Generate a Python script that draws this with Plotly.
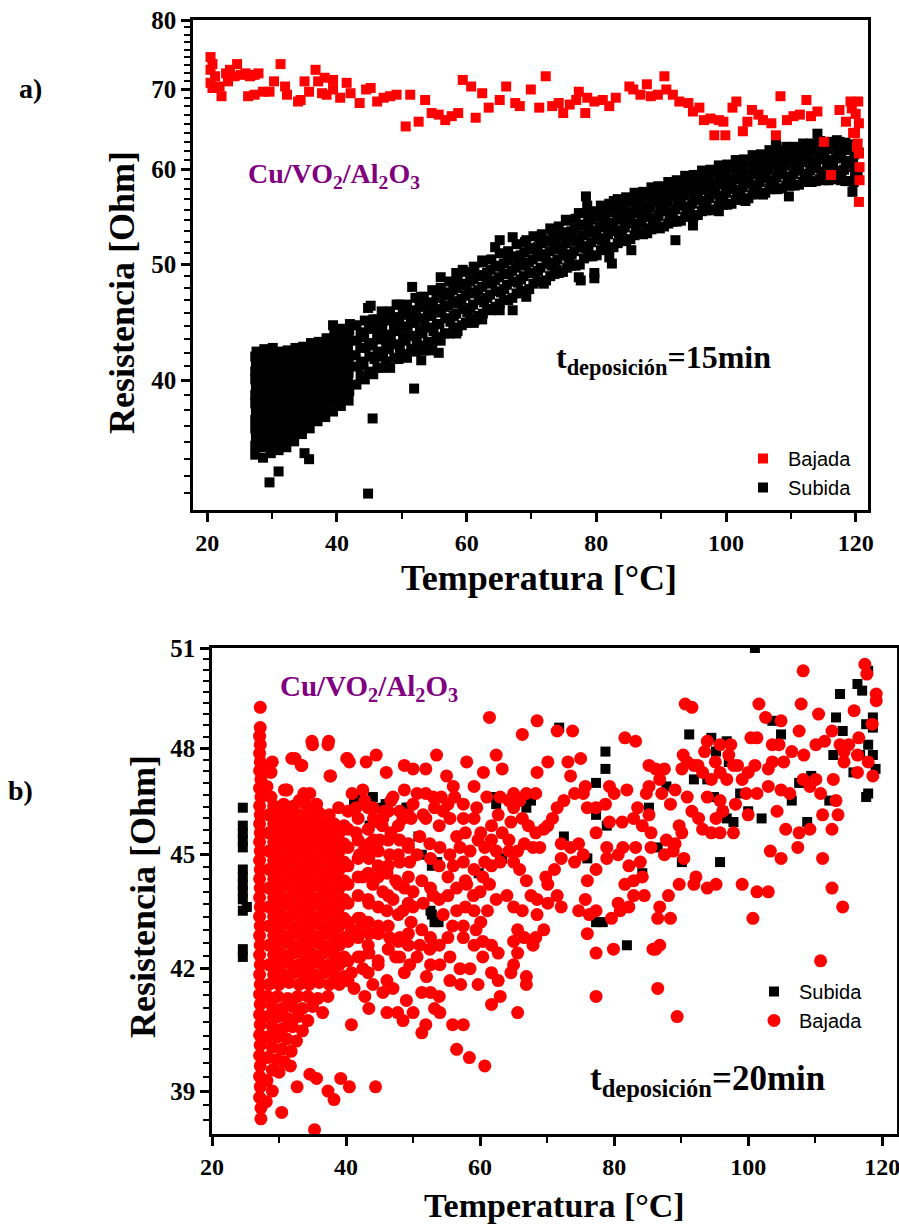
import math
import plotly.graph_objects as go

# ---------------- Panel a) : Cu/VO2/Al2O3, t = 15 min ----------------
bajada_a = [
 (20.5,74.5),(20.8,73.5),(20.5,72.7),(21.2,71.8),(20.5,70.9),(21.9,70.4),(22.2,69.1),(20.8,70.2),
 (22.9,72.2),(23.5,72.7),(23.2,71.1),(24.6,73.5),(24.2,71.8),(25.2,72.0),(25.9,72.2),(26.6,71.8),
 (27.3,72.0),(27.9,72.2),(26.3,69.1),(27.3,69.3),(28.6,69.7),(29.6,69.7),(30.3,71.1),(31.3,73.5),
 (32.0,70.4),(32.3,69.3),(34.0,68.4),(34.4,68.6),(35.0,71.1),(35.7,69.7),(36.7,72.7),(37.1,71.1),
 (38.1,71.6),(37.7,69.5),(38.4,69.3),(39.4,71.3),(39.4,70.0),(40.5,68.9),(41.5,70.9),(42.1,69.5),
 (43.5,68.2),(44.5,70.0),(45.2,70.2),(46.2,68.4),(47.2,68.9),(48.2,69.1),(49.2,69.3),(50.6,65.2),
 (51.3,69.3),(52.6,65.8),(53.6,68.6),(54.6,66.9),(55.7,66.7),(56.7,66.0),(57.7,66.5),(58.7,66.9),
 (59.4,71.3),(60.7,70.4),(61.4,66.3),(62.4,69.5),(63.4,67.6),(65.1,68.6),(66.1,70.4),(67.5,68.2),
 (68.2,67.8),(69.9,70.0),(71.2,67.6),(72.2,71.8),(73.2,67.8),(74.2,68.2),(74.9,66.9),(75.9,68.0),
 (76.9,68.6),(77.3,69.7),(78.3,66.9),(78.6,68.9),(79.7,68.4),(81.0,68.6),(82.0,67.8),(83.0,68.9),
 (85.1,70.4),(85.7,70.0),(86.8,69.3),(87.8,70.7),(88.4,69.1),(89.5,69.3),(90.5,71.8),(90.8,70.0),
 (91.8,69.3),(92.8,68.4),(94.2,68.2),(94.9,67.1),(95.9,67.6),(96.6,66.0),(97.6,66.2),(98.2,64.1),
 (98.9,66.0),(99.9,64.1),(99.6,65.8),(101.0,67.6),(101.6,68.4),(102.6,64.6),(103.3,65.8),(104.0,67.3),
 (105.0,66.7),(105.7,66.0),(107.0,65.6),(107.7,64.1),(108.4,69.1),(109.4,66.0),(110.4,66.5),(111.4,66.7),
 (112.4,68.6),(113.1,66.5),(114.1,67.1),(115.1,63.3),(116.2,59.4),(117.5,67.3),(118.5,65.8),(119.2,68.4),
 (119.9,64.4),(120.2,62.7),(120.4,68.4),(120.5,65.6),(120.5,61.9),(120.6,60.3),(120.6,58.8),(120.5,56.4),
 (120.3,63.1),(119.6,64.4),(120.0,66.8),(119.4,67.5),
]

subida_a_blob = [
 (27.4,34.7),(27.4,35.3),(27.5,35.9),(27.4,36.5),(27.4,37.1),(27.5,37.7),(27.4,38.3),(27.4,38.9),(27.5,39.5),(27.4,40.1),(27.4,40.7),(27.5,41.3),(27.4,41.9),(27.6,42.3),
 (28.6,34.5),(28.5,35.2),(28.7,35.8),(28.6,36.4),(28.6,37.0),(28.5,37.6),(28.7,38.2),(28.6,38.8),(28.6,39.4),(28.5,40.0),(28.7,40.6),(28.6,41.2),(28.6,41.8),(28.8,42.5),
 (29.8,34.8),(29.9,35.4),(29.7,36.0),(29.8,36.6),(29.8,37.2),(29.9,37.8),(29.7,38.4),(29.8,39.0),(29.8,39.6),(29.9,40.2),(29.7,40.8),(29.8,41.4),(29.8,42.0),(30.1,42.6),
 (31.0,35.0),(31.1,35.6),(30.9,36.2),(31.0,36.8),(31.0,37.4),(31.1,38.0),(30.9,38.6),(31.0,39.2),(31.0,39.8),(31.1,40.4),(30.9,41.0),(31.0,41.6),(31.1,42.3),
 (32.2,35.2),(32.3,35.8),(32.1,36.4),(32.2,37.0),(32.2,37.6),(32.3,38.2),(32.1,38.8),(32.2,39.4),(32.2,40.0),(32.3,40.6),(32.1,41.2),(32.2,41.8),(32.4,42.4),
 (33.4,35.6),(33.5,36.2),(33.3,36.8),(33.4,37.4),(33.4,38.0),(33.5,38.6),(33.3,39.2),(33.4,39.8),(33.4,40.4),(33.5,41.0),(33.3,41.6),(33.4,42.2),(33.6,42.6),
 (34.6,36.1),(34.7,36.7),(34.5,37.3),(34.6,37.9),(34.6,38.5),(34.7,39.1),(34.5,39.7),(34.6,40.3),(34.6,40.9),(34.7,41.5),(34.5,42.1),(34.8,42.7),
 (35.8,36.5),(35.9,37.1),(35.7,37.7),(35.8,38.3),(35.8,38.9),(35.9,39.5),(35.7,40.1),(35.8,40.7),(35.8,41.3),(35.9,41.9),(35.7,42.5),(36.0,43.0),
 (37.0,37.0),(37.1,37.6),(36.9,38.2),(37.0,38.8),(37.0,39.4),(37.1,40.0),(36.9,40.6),(37.0,41.2),(37.0,41.8),(37.1,42.4),(37.2,43.1),
 (38.2,37.3),(38.3,37.9),(38.1,38.5),(38.2,39.1),(38.2,39.7),(38.3,40.3),(38.1,40.9),(38.2,41.5),(38.2,42.1),(38.3,42.7),(38.4,43.4),
 (39.4,37.7),(39.5,38.4),(39.3,39.0),(39.4,39.7),(39.4,40.4),(39.5,41.0),(39.3,41.7),(39.4,42.4),(39.4,43.0),(39.6,43.7),
 (40.6,38.1),(40.7,38.8),(40.5,39.5),(40.6,40.2),(40.6,40.9),(40.7,41.6),(40.5,42.3),(40.6,43.0),(40.7,43.7),(40.8,44.2),
 (41.8,38.5),(41.9,39.2),(41.7,39.9),(41.8,40.6),(41.8,41.3),(41.9,42.0),(41.7,42.7),(41.8,43.4),(41.9,44.1),(42.0,44.6),
]

subida_a_band = [
 (43.0,39.7),(43.2,41.1),(42.9,42.0),(43.1,43.2),(43.0,44.5),(44.3,40.1),(44.1,41.2),(44.4,42.6),(44.2,43.5),(44.3,44.9),
 (45.6,40.5),(45.8,41.7),(45.5,42.8),(45.7,44.2),(45.6,45.0),(46.9,41.0),(47.1,41.9),(46.8,43.3),(47.0,44.2),(46.9,45.7),
 (48.2,41.0),(48.0,42.5),(48.3,43.4),(48.1,44.9),(48.2,45.7),(49.5,41.7),(49.7,42.6),(49.4,44.0),(49.6,44.9),(49.5,46.3),
 (50.8,41.8),(50.6,43.2),(50.9,44.1),(50.7,45.4),(50.8,46.3),(52.1,42.3),(52.3,43.2),(52.0,44.7),(52.2,45.6),(52.1,46.9),
 (53.4,42.4),(53.2,43.8),(53.5,44.8),(53.3,46.1),(53.4,47.0),(54.7,43.0),(54.9,44.0),(54.6,45.3),(54.8,46.3),(54.7,47.6),
 (56.0,43.2),(55.8,44.6),(56.1,45.6),(55.9,46.9),(56.0,47.8),(57.3,43.8),(57.5,44.8),(57.2,46.2),(57.4,47.1),(57.3,48.4),
 (58.6,44.0),(58.4,45.5),(58.7,46.4),(58.5,47.8),(58.6,48.7),(59.9,44.7),(60.1,45.6),(59.8,47.1),(60.0,48.0),(59.9,49.3),
 (61.2,44.9),(61.0,46.3),(61.3,47.3),(61.1,48.6),(61.2,49.5),(62.5,45.5),(62.7,46.5),(62.4,47.9),(62.6,48.9),(62.5,50.2),
 (63.8,45.8),(63.6,47.2),(63.9,48.2),(63.7,49.5),(63.8,50.5),(65.1,46.4),(65.3,47.4),(65.0,48.8),(65.2,49.8),(65.1,51.1),
 (66.4,46.7),(66.2,48.1),(66.5,49.1),(66.3,50.4),(66.4,51.3),(67.7,47.3),(67.9,48.3),(67.6,49.7),(67.8,50.6),(67.7,52.0),
 (69.0,47.5),(68.8,48.9),(69.1,49.9),(68.9,51.2),(69.0,52.2),(70.3,48.2),(70.5,49.2),(70.2,50.5),(70.4,51.5),(70.3,52.8),
 (71.6,48.4),(71.4,49.7),(71.7,50.8),(71.5,52.1),(71.6,53.0),(72.9,48.9),(73.1,49.9),(72.8,51.3),(73.0,52.3),(72.9,53.6),
 (74.2,49.2),(74.0,50.5),(74.3,51.5),(74.1,52.8),(74.2,53.8),(75.5,49.7),(75.7,50.7),(75.4,52.1),(75.6,53.0),(75.5,54.4),
 (76.8,49.9),(76.6,51.3),(76.9,52.3),(76.7,53.6),(76.8,54.6),(78.1,50.6),(78.3,51.6),(78.0,52.9),(78.2,53.9),(78.1,55.2),
 (79.4,50.8),(79.2,52.2),(79.5,53.2),(79.3,54.5),(79.4,55.4),(80.7,51.4),(80.9,52.4),(80.6,53.7),(80.8,54.7),(80.7,56.0),
 (82.0,51.6),(81.8,53.0),(82.1,53.9),(81.9,55.3),(82.0,56.2),(83.3,52.1),(83.5,53.1),(83.2,54.5),(83.4,55.4),(83.3,56.7),
 (84.6,52.3),(84.4,53.7),(84.7,54.6),(84.5,56.0),(84.6,56.9),(85.9,52.9),(86.1,53.8),(85.8,55.2),(86.0,56.1),(85.9,57.4),
 (87.2,53.0),(87.0,54.3),(87.3,55.3),(87.1,56.6),(87.2,57.5),(88.5,53.5),(88.7,54.4),(88.4,55.8),(88.6,56.7),(88.5,58.0),
 (89.8,53.6),(89.6,54.9),(89.9,55.9),(89.7,57.2),(89.8,58.1),(91.1,54.1),(91.3,55.0),(91.0,56.4),(91.2,57.3),(91.1,58.6),
 (92.4,54.3),(92.2,55.6),(92.5,56.5),(92.3,57.9),(92.4,58.8),(93.7,54.8),(93.9,55.7),(93.6,57.1),(93.8,58.0),(93.7,59.3),
 (95.0,54.9),(94.8,56.2),(95.1,57.2),(94.9,58.5),(95.0,59.4),(96.3,55.4),(96.5,56.3),(96.2,57.7),(96.4,58.6),(96.3,59.9),
 (97.6,55.5),(97.4,56.8),(97.7,57.8),(97.5,59.1),(97.6,60.0),(98.9,56.0),(99.1,56.9),(98.8,58.3),(99.0,59.2),(98.9,60.5),
 (100.2,56.1),(100.0,57.4),(100.3,58.4),(100.1,59.7),(100.2,60.6),(101.5,56.6),(101.7,57.5),(101.4,58.9),(101.6,59.8),(101.5,61.1),
 (102.8,56.7),(102.6,58.0),(102.9,59.0),(102.7,60.3),(102.8,61.2),(104.1,57.2),(104.3,58.1),(104.0,59.5),(104.2,60.4),(104.1,61.7),
 (105.4,57.3),(105.2,58.6),(105.5,59.6),(105.3,60.9),(105.4,61.8),(106.7,57.8),(106.9,58.7),(106.6,60.0),(106.8,61.0),(106.7,62.3),
 (108.0,57.8),(107.8,59.1),(108.1,60.1),(107.9,61.4),(108.0,62.3),(109.3,58.2),(109.5,59.1),(109.2,60.5),(109.4,61.4),(109.3,62.7),
 (110.6,58.2),(110.4,59.5),(110.7,60.5),(110.5,61.8),(110.6,62.7),(111.9,58.6),(112.1,59.5),(111.8,60.9),(112.0,61.8),(111.9,63.1),
 (113.2,58.6),(113.0,59.9),(113.3,60.9),(113.1,62.2),(113.2,63.1),(114.5,58.9),(114.7,59.8),(114.4,61.2),(114.6,62.1),(114.5,63.4),
 (115.8,58.8),(115.6,60.1),(115.9,61.1),(115.7,62.4),(115.8,63.3),(117.1,59.0),(117.3,59.9),(117.0,61.3),(117.2,62.2),(117.1,63.5),
 (118.4,58.7),(118.2,60.0),(118.5,61.0),(118.3,62.3),(118.4,63.2),(119.7,58.6),(119.9,59.5),(119.6,60.9),(119.8,61.8),(119.7,63.0),
]

subida_a_band_b = [
 (43.65,40.4),(43.7,41.5),(43.6,42.6),(43.65,43.9),(44.95,40.7),(45.0,41.9),(44.9,43.0),(44.95,44.2),
 (46.25,41.0),(46.3,42.3),(46.2,43.5),(46.25,44.6),(47.55,41.5),(47.6,42.6),(47.5,43.7),(47.55,45.0),
 (48.85,41.8),(48.9,42.9),(48.8,44.2),(48.85,45.2),(50.15,42.1),(50.2,43.4),(50.1,44.4),(50.15,45.7),
 (51.45,42.5),(51.5,43.6),(51.4,44.9),(51.45,45.8),(52.75,42.8),(52.8,44.0),(52.7,45.1),(52.75,46.3),
 (54.05,43.1),(54.1,44.3),(54.0,45.5),(54.05,46.5),(55.35,43.5),(55.4,44.6),(55.3,45.9),(55.35,46.9),
 (56.65,43.8),(56.7,45.1),(56.6,46.1),(56.65,47.4),(57.95,44.3),(58.0,45.3),(57.9,46.6),(57.95,47.6),
 (59.25,44.5),(59.3,45.9),(59.2,46.8),(59.25,48.2),(60.55,45.1),(60.6,46.0),(60.5,47.4),(60.55,48.4),
 (61.85,45.3),(61.9,46.7),(61.8,47.6),(61.85,49.0),(63.15,45.9),(63.2,46.9),(63.1,48.3),(63.15,49.2),
 (64.45,46.1),(64.5,47.5),(64.4,48.5),(64.45,49.9),(65.75,46.7),(65.8,47.7),(65.7,49.1),(65.75,50.1),
 (67.05,46.9),(67.1,48.4),(67.0,49.4),(67.05,50.8),(68.35,47.5),(68.4,48.6),(68.3,50.0),(68.35,50.9),
 (69.65,47.7),(69.7,49.2),(69.6,50.2),(69.65,51.6),(70.95,48.4),(71.0,49.4),(70.9,50.8),(70.95,51.7),
 (72.25,48.5),(72.3,50.1),(72.2,51.0),(72.25,52.4),(73.55,49.1),(73.6,50.2),(73.5,51.6),(73.55,52.5),
 (74.85,49.3),(74.9,50.9),(74.8,51.8),(74.85,53.2),(76.15,49.9),(76.2,51.0),(76.1,52.5),(76.15,53.3),
 (77.45,50.0),(77.5,51.7),(77.4,52.6),(77.45,54.0),(78.75,50.8),(78.8,51.8),(78.7,53.3),(78.75,54.2),
 (80.05,50.9),(80.1,52.5),(80.0,53.4),(80.05,55.0),(81.35,51.6),(81.4,52.6),(81.3,54.1),(81.35,55.0),
 (82.65,51.7),(82.7,53.3),(82.6,54.2),(82.65,55.7),(83.95,52.4),(84.0,53.4),(83.9,54.9),(83.95,55.7),
 (85.25,52.5),(85.3,54.1),(85.2,55.0),(85.25,56.5),(86.55,53.1),(86.6,54.1),(86.5,55.7),(86.55,56.5),
 (87.85,53.1),(87.9,54.8),(87.8,55.7),(87.85,57.2),(89.15,53.7),(89.2,54.7),(89.1,56.4),(89.15,57.2),
 (90.45,53.8),(90.5,55.4),(90.4,56.3),(90.45,57.9),(91.75,54.3),(91.8,55.3),(91.7,57.0),(91.75,57.8),
 (93.05,54.4),(93.1,56.0),(93.0,56.9),(93.05,58.5),(94.35,54.9),(94.4,55.9),(94.3,57.6),(94.35,58.4),
 (95.65,55.0),(95.7,56.6),(95.6,57.5),(95.65,59.1),(96.95,55.5),(97.0,56.5),(96.9,58.2),(96.95,59.0),
 (98.25,55.6),(98.3,57.2),(98.2,58.1),(98.25,59.7),(99.55,56.1),(99.6,57.1),(99.5,58.8),(99.55,59.6),
 (100.85,56.2),(100.9,57.8),(100.8,58.7),(100.85,60.3),(102.15,56.7),(102.2,57.7),(102.1,59.4),(102.15,60.2),
 (103.45,56.8),(103.5,58.4),(103.4,59.3),(103.45,60.9),(104.75,57.3),(104.8,58.3),(104.7,60.0),(104.75,60.8),
 (106.05,57.4),(106.1,59.0),(106.0,59.9),(106.05,61.4),(107.35,57.8),(107.4,58.8),(107.3,60.5),(107.35,61.3),
 (108.65,57.9),(108.7,59.5),(108.6,60.3),(108.65,61.9),(109.95,58.2),(110.0,59.2),(109.9,60.9),(109.95,61.7),
 (111.25,58.3),(111.3,59.9),(111.2,60.7),(111.25,62.3),(112.55,58.6),(112.6,59.5),(112.5,61.3),(112.55,62.0),
 (113.85,58.7),(113.9,60.2),(113.8,61.0),(113.85,62.6),(115.15,58.8),(115.2,59.7),(115.1,61.4),(115.15,62.2),
 (116.45,58.9),(116.5,60.4),(116.4,61.1),(116.45,62.8),(117.75,58.8),(117.8,59.8),(117.7,61.4),(117.75,62.2),
 (119.05,58.7),(119.1,60.3),(119.0,61.0),(119.05,62.6),
]

subida_a_bordes = [
 (45.2,46.2),(46.2,45.0),(49.2,46.3),(53.0,47.0),(58.4,49.2),(59.4,49.5),(61.1,49.8),(62.4,50.4),
 (64.4,51.7),(65.1,52.4),(67.1,52.7),(69.2,52.4),(71.2,52.7),(73.2,53.4),(75.3,54.5),(77.3,55.2),
 (78.6,56.0),(82.7,56.5),(87.4,57.4),(89.5,58.1),(96.6,59.5),(98.9,60.3),(102.0,61.1),(105.7,61.3),
 (107.7,62.7),(111.1,62.3),
 (53.0,41.6),(54.3,42.4),(55.7,42.2),(58.4,43.8),(61.1,44.7),(62.4,45.0),(65.1,45.8),(67.1,45.8),
 (69.2,47.0),(71.9,48.2),(73.9,49.5),(75.9,50.4),(77.3,48.8),(79.7,49.2),(82.0,50.7),(85.4,51.4),
 (88.1,53.6),(94.9,53.9),(98.9,55.4),(103.0,56.5),(105.7,57.2),(112.4,58.8),
]

subida_a_sueltos = [
 (29.6,32.9),(31.0,33.6),(35.7,34.4),(35.0,34.8),(44.8,32.2),(45.5,37.2),(51.9,39.4),(39.4,44.5),
 (41.5,43.6),(44.8,46.0),(51.6,47.9),(56.0,48.8),(75.9,50.4),(77.6,48.5),(79.7,48.7),(82.4,50.1),
 (92.2,52.4),(78.4,57.0),(89.5,57.7),(94.2,58.5),(99.3,60.3),(101.6,61.1),(107.7,63.0),(109.7,57.0),
 (114.1,64.3),(117.5,63.3),(119.5,57.5),(120.3,59.8),(120.5,62.0),
]

# ---------------- Panel b) : Cu/VO2/Al2O3, t = 20 min ----------------
subida_b = [
 (24.6,46.3),(24.6,45.8),(24.6,45.6),(24.6,45.4),(24.6,45.2),(24.6,44.6),(24.6,44.4),(24.6,44.2),
 (24.6,44.0),(24.6,43.8),(24.6,43.5),(24.6,42.5),(24.6,42.3),(25.2,43.6),
 (101.0,51.0),(117.9,50.3),(116.3,49.9),(117.0,49.7),(113.7,49.6),(113.1,48.9),(117.6,48.7),(118.6,48.9),
 (118.6,48.6),(114.1,48.5),(117.9,48.1),(116.7,47.8),(118.6,47.8),(119.0,47.4),(115.7,47.3),(112.7,47.8),
 (117.9,46.7),(117.6,46.6),(109.4,47.2),(107.6,47.0),(104.9,48.4),(103.6,48.8),(94.5,48.3),(91.2,48.4),
 (96.8,48.2),(95.2,47.9),(97.1,47.6),(91.9,47.1),(93.9,47.1),(94.9,46.6),(96.2,46.2),(96.8,46.0),
 (97.8,45.9),(98.8,46.7),(102.0,46.0),(108.8,45.9),(106.5,46.5),(112.1,46.5),(100.0,46.2),(95.8,44.8),
 (90.1,44.8),(88.8,45.1),(86.5,45.2),(85.2,46.3),(87.8,46.9),(84.2,44.5),(78.7,47.9),(78.7,47.4),
 (77.3,47.0),(77.3,46.1),(78.9,45.8),(76.0,44.9),(77.3,43.2),(78.3,43.2),(81.9,42.6),(71.8,48.6),
 (72.5,45.5),(66.9,46.3),(67.6,46.5),(62.4,46.4),(63.0,44.9),(59.8,44.5),(53.6,44.8),(52.6,43.5),
 (53.2,43.2),(43.8,46.3),(41.2,46.4),(49.0,46.3),(43.5,45.8),(45.8,46.2),(51.3,45.0),(44.0,46.6),
 (45.0,46.3),(45.9,46.4),(41.9,46.6),(49.3,46.3),(50.8,45.5),(52.8,44.7),(52.8,43.4),(53.8,43.2),
 (62.3,46.6),(63.3,44.9),
]

bajada_b_franja = [
 (27.2,49.2),(27.2,48.6),(27.1,48.35),(27.2,48.1),(27.1,47.85),(27.2,47.6),(27.1,47.35),(27.3,47.1),
 (27.1,46.85),(27.3,46.6),(27.1,46.35),(27.2,46.1),(27.1,45.85),(27.2,45.6),(27.1,45.35),(27.2,45.1),
 (27.1,44.85),(27.2,44.6),(27.1,44.35),(27.2,44.1),(27.1,43.85),(27.2,43.6),(27.1,43.35),(27.2,43.1),
 (27.1,42.85),(27.2,42.6),(27.1,42.35),(27.2,42.1),(27.1,41.85),(27.2,41.6),(27.1,41.35),(27.2,41.1),
 (27.1,40.85),(27.2,40.6),(27.1,40.35),(27.2,40.1),(27.1,39.85),(27.2,39.6),(27.1,39.35),(27.2,39.1),
 (27.1,38.85),(27.3,38.6),(27.3,38.35),
]

bajada_b_nucleo = [
 (28.5,41.6),(30.0,41.6),(31.5,41.65),(33.0,41.6),(34.5,41.6),(36.0,41.65),(37.5,41.6),(39.0,41.6),
 (29.2,41.85),(30.7,41.85),(32.2,41.9),(33.7,41.85),(35.2,41.85),(36.7,41.9),(38.2,41.85),(39.7,41.8),
 (28.5,42.1),(30.0,42.1),(31.5,42.15),(33.0,42.1),(34.5,42.1),(36.0,42.15),(37.5,42.1),(39.0,42.1),
 (29.2,42.35),(30.7,42.35),(32.2,42.4),(33.7,42.35),(35.2,42.35),(36.7,42.4),(38.2,42.35),(39.7,42.3),
 (28.5,42.6),(30.0,42.6),(31.5,42.65),(33.0,42.6),(34.5,42.6),(36.0,42.65),(37.5,42.6),(39.0,42.6),
 (29.2,42.85),(30.7,42.85),(32.2,42.9),(33.7,42.85),(35.2,42.85),(36.7,42.9),(38.2,42.85),(39.7,42.8),
 (28.5,43.1),(30.0,43.1),(31.5,43.15),(33.0,43.1),(34.5,43.1),(36.0,43.15),(37.5,43.1),(39.0,43.1),
 (29.2,43.35),(30.7,43.35),(32.2,43.4),(33.7,43.35),(35.2,43.35),(36.7,43.4),(38.2,43.35),(39.7,43.3),
 (28.5,43.6),(30.0,43.6),(31.5,43.65),(33.0,43.6),(34.5,43.6),(36.0,43.65),(37.5,43.6),(39.0,43.6),
 (29.2,43.85),(30.7,43.85),(32.2,43.9),(33.7,43.85),(35.2,43.85),(36.7,43.9),(38.2,43.85),(39.7,43.8),
 (28.5,44.1),(30.0,44.1),(31.5,44.15),(33.0,44.1),(34.5,44.1),(36.0,44.15),(37.5,44.1),(39.0,44.1),
 (29.2,44.35),(30.7,44.35),(32.2,44.4),(33.7,44.35),(35.2,44.35),(36.7,44.4),(38.2,44.35),(39.7,44.3),
 (28.5,44.6),(30.0,44.6),(31.5,44.65),(33.0,44.6),(34.5,44.6),(36.0,44.65),(37.5,44.6),(39.0,44.6),
 (29.2,44.85),(30.7,44.85),(32.2,44.9),(33.7,44.85),(35.2,44.85),(36.7,44.9),(38.2,44.85),(39.7,44.8),
 (28.5,45.1),(30.0,45.1),(31.5,45.15),(33.0,45.1),(34.5,45.1),(36.0,45.15),(37.5,45.1),(39.0,45.1),
 (29.2,45.35),(30.7,45.35),(32.2,45.4),(33.7,45.35),(35.2,45.35),(36.7,45.4),(38.2,45.35),(39.7,45.3),
 (28.5,45.6),(30.0,45.6),(31.5,45.65),(33.0,45.6),(34.5,45.6),(36.0,45.65),(37.5,45.6),(39.0,45.6),
 (29.2,45.85),(30.7,45.85),(32.2,45.9),(33.7,45.85),(35.2,45.85),(36.7,45.9),(38.2,45.85),(39.7,45.8),
 (28.5,46.1),(30.0,46.1),(31.5,46.15),(33.0,46.1),(34.5,46.1),(36.0,46.15),(37.5,46.1),
 (29.2,46.35),(30.7,46.4),(32.2,46.35),(34.0,46.4),(35.5,46.3),
]

bajada_b_inferior = [
 (28.3,41.3),(29.8,41.3),(31.3,41.25),(32.8,41.3),(34.3,41.3),(35.8,41.25),(37.3,41.3),
 (29.0,41.05),(30.5,41.0),(32.0,41.05),(33.5,41.0),(35.0,41.05),(36.5,40.9),
 (28.3,40.8),(29.8,40.8),(31.3,40.75),(32.8,40.8),(34.3,40.7),
 (29.0,40.55),(30.5,40.5),(32.0,40.55),(33.5,40.45),
 (28.3,40.3),(29.8,40.3),(31.2,40.25),(32.6,40.2),
 (29.0,40.05),(30.4,40.0),(31.8,39.95),
 (28.3,39.8),(29.6,39.75),(30.8,39.7),
 (29.0,39.5),(30.0,39.45),
 (28.2,39.25),(29.0,39.0),(28.1,38.75),
]

bajada_b_transicion = [
 (40.3,46.2),(40.3,45.7),(40.3,45.2),(40.3,44.7),(40.3,44.2),(40.3,43.7),(40.3,43.2),(40.3,42.7),(40.3,42.2),(40.3,41.7),
 (41.8,46.0),(41.8,45.4),(41.8,44.9),(41.8,44.4),(41.8,43.9),(41.8,43.3),(41.8,42.8),(41.8,42.3),
 (43.3,46.3),(43.3,45.7),(43.3,45.0),(43.3,44.5),(43.3,43.8),(43.3,43.2),(43.3,42.6),(43.3,41.9),
 (44.8,45.9),(44.8,45.1),(44.8,44.4),(44.8,43.6),(44.8,42.9),(44.8,42.2),
 (46.3,46.2),(46.3,45.4),(46.3,44.7),(46.3,43.9),(46.3,43.1),(46.3,42.5),
 (47.8,45.8),(47.8,45.0),(47.8,44.2),(47.8,43.4),(47.8,42.7),
 (49.3,46.1),(49.3,45.3),(49.3,44.4),(49.3,43.7),(49.3,42.9),
]

bajada_b_medio = [
 (42.5,46.8),(44.0,46.3),(45.5,46.0),(47.0,46.6),(48.5,46.0),(50.0,46.4),(51.5,46.1),(53.0,46.6),
 (54.5,46.2),(56.0,46.9),(57.5,46.4),(42.0,45.0),(43.5,45.3),(45.0,45.4),(46.5,45.0),(48.0,44.8),
 (49.5,44.8),(51.0,45.5),(52.5,45.3),(54.0,45.2),(55.5,45.0),(57.0,45.2),(58.5,45.1),(42.5,44.4),
 (44.0,44.2),(45.5,44.0),(47.0,43.8),(48.5,43.5),(50.0,43.6),(51.5,43.7),(53.0,43.9),(54.5,43.4),
 (56.0,44.7),(57.5,44.8),(59.0,43.9),(42.0,43.0),(43.5,42.9),(45.0,43.0),(46.5,42.8),(48.0,42.3),
 (49.5,42.1),(51.0,42.6),(52.5,42.5),(54.0,42.1),(55.5,42.3),(57.0,42.0),(58.5,42.0),(42.5,42.0),
 (44.0,41.6),(45.5,41.4),(47.0,41.5),(48.5,40.7),(50.0,40.9),(52.0,41.8),(54.0,40.9),(58.0,44.2),
 (60.0,44.0),(59.5,46.3),(61.0,46.6),(60.5,47.3),(58.0,47.6),(55.0,47.2),(53.5,47.8),(46.0,47.3),
 (44.5,47.8),(43.0,47.6),
]

bajada_b_dispersos = [
 (117.4,50.5),(117.7,50.2),(108.2,50.3),(119.1,49.6),(119.1,49.4),(115.8,49.1),(110.5,49.0),(107.9,49.3),
 (118.5,48.7),(116.5,48.3),(112.5,48.5),(107.6,48.5),(104.9,48.8),(101.6,49.3),(102.6,48.9),(101.3,48.3),
 (100.4,48.3),(103.6,48.1),(104.6,48.1),(106.5,47.9),(110.1,48.1),(111.4,48.2),(113.7,48.1),(115.0,48.1),
 (114.3,47.9),(116.3,47.8),(117.9,47.6),(118.6,47.2),(116.3,47.3),(114.3,47.6),(112.7,47.1),(110.1,47.1),
 (108.3,47.8),(105.3,47.6),(103.6,47.6),(103.0,47.4),(101.0,47.5),(100.0,47.3),(98.4,47.5),(97.4,48.1),
 (95.8,48.1),(93.9,48.2),(97.1,47.8),(97.8,47.5),(95.1,47.6),(93.5,47.9),(92.5,47.5),(91.9,47.5),
 (90.9,47.6),(90.3,47.8),(90.6,49.3),(91.6,49.2),(93.2,47.3),(94.5,47.1),(95.8,47.3),(96.8,47.1),
 (99.1,47.1),(99.7,46.7),(101.3,46.7),(103.0,46.9),(104.9,46.8),(106.2,46.7),(108.2,47.1),(109.2,46.9),
 (110.8,46.7),(113.1,46.5),(111.1,46.1),(113.4,46.1),(112.5,45.7),(109.2,45.7),(107.6,45.6),(105.6,45.7),
 (104.3,46.2),(100.0,46.1),(98.1,46.4),(96.2,46.2),(95.2,46.0),(95.8,45.6),(97.8,45.6),(94.5,45.6),
 (93.2,45.7),(92.6,46.0),(91.6,46.2),(90.9,46.6),(89.1,46.8),(88.4,46.4),(87.1,46.7),(85.2,46.9),
 (86.2,47.4),(85.2,47.5),(87.5,47.4),(86.8,47.1),(81.6,48.3),(83.2,48.2),(90.1,47.4),(101.3,44.0),
 (112.5,44.1),(114.1,43.6),(110.8,42.2),(107.4,45.2),(104.9,44.9),(103.3,45.1),(103.0,44.0),(99.1,44.2),
 (100.7,43.3),(111.1,44.9),(95.8,46.5),(93.9,46.6),(93.9,44.1),(95.2,44.2),(91.9,44.2),(89.7,44.2),
 (92.2,44.4),(90.4,44.9),(88.8,45.1),(87.5,45.0),(87.8,45.4),(89.1,45.3),(89.7,45.8),(90.1,45.6),
 (85.5,45.2),(85.5,45.6),(85.2,46.1),(88.1,43.9),(86.8,43.6),(86.5,43.3),(88.4,43.3),(89.4,40.8),
 (86.5,41.5),(85.8,42.5),(86.8,42.6),(84.5,43.9),(82.9,43.9),(82.2,43.6),(80.9,43.5),(79.6,43.3),
 (80.6,43.7),(81.6,44.2),(82.9,44.3),(84.2,44.4),(83.9,44.8),(82.2,44.7),(80.6,45.0),(78.9,44.9),
 (77.3,44.6),(76.0,44.3),(75.7,43.8),(77.3,43.5),(74.7,43.5),(76.3,43.4),(76.0,42.9),(77.3,42.4),
 (79.9,42.5),(77.3,41.3),(86.2,42.5),(83.2,45.2),(81.3,45.2),(78.9,45.2),(77.3,45.6),(79.3,45.9),
 (81.2,45.9),(82.9,46.0),(84.2,45.8),(83.5,46.3),(84.8,46.7),(81.9,46.8),(80.0,46.7),(79.3,46.9),
 (78.7,46.4),(77.3,46.3),(76.0,46.3),(75.4,46.7),(75.7,46.9),(75.0,47.7),(73.1,47.6),(71.5,48.5),
 (73.8,48.5),(73.5,47.2),(74.1,46.7),(72.5,46.5),(71.5,46.3),(70.8,46.0),(70.1,45.8),(69.5,45.7),
 (68.3,45.6),(67.9,45.2),(68.9,45.2),(72.1,45.3),(73.5,45.2),(74.7,45.3),(75.4,45.0),(74.1,44.8),
 (72.1,44.9),(71.1,44.6),(69.8,44.4),(70.1,44.2),(71.5,43.9),(72.1,43.6),(70.1,43.7),(68.5,43.8),
 (67.6,43.9),(66.9,44.3),(65.9,44.6),(65.0,44.8),(64.3,45.1),(65.6,45.1),(66.6,45.3),(67.2,45.8),
 (66.3,46.0),(64.6,45.9),(65.0,46.3),(65.9,46.5),(66.9,46.7),(68.3,46.7),(68.5,47.3),(70.1,47.6),
 (66.3,48.4),(68.5,48.8),(65.0,46.7),(64.3,46.5),(63.0,46.6),(63.3,47.4),(62.4,47.8),(61.4,48.9),
 (62.7,46.1),(61.7,45.8),(60.1,45.6),(60.7,45.2),(62.4,45.1),(63.0,44.8),(61.7,44.7),(60.4,44.4),
 (61.4,44.2),(62.4,43.8),(64.0,43.9),(65.0,43.6),(66.3,43.5),(68.5,43.4),(69.5,43.0),(68.3,42.8),
 (67.9,42.6),(66.6,42.8),(65.6,43.0),(65.0,42.7),(65.6,42.4),(65.0,42.1),(64.6,41.9),(66.9,41.8),
 (66.9,41.6),(62.7,41.7),(63.0,41.3),(61.7,41.1),(65.6,40.9),(62.7,42.4),(61.7,42.6),(60.4,42.7),
 (59.4,43.0),(60.1,43.2),(61.1,43.5),(59.1,43.5),(57.8,43.6),(56.5,43.5),(57.5,43.1),(55.9,43.1),
 (55.2,42.8),(57.5,42.8),(59.1,42.6),(60.4,42.3),(61.7,41.9),(59.7,41.6),(57.1,41.6),(55.5,41.7),
 (53.9,41.3),(52.6,41.4),(53.2,41.0),(55.9,40.6),(57.5,40.6),(56.5,40.0),(58.4,39.8),(60.7,39.6),
 (51.9,40.6),(51.3,40.4),(51.3,41.4),(49.0,41.2),(47.7,40.9),(46.1,40.9),(43.4,41.0),(42.8,41.3),
 (41.2,41.5),(40.8,40.6),(40.5,39.1),(44.4,39.1),(37.3,39.0),(38.2,38.8),(39.2,39.3),(35.3,38.1),
 (30.4,38.5),(32.7,39.1),(31.7,39.6),(35.6,39.3),(34.6,39.4),
 (35.0,48.1),(37.3,48.1),(32.4,47.7),(33.3,47.5),(40.2,47.7),(40.5,47.6),(37.6,47.2),(48.7,47.5),
 (50.0,47.4),(51.9,47.4),(59.1,46.9),(31.1,46.8),(34.6,46.7),(40.9,46.7),(42.8,46.5),(46.7,46.5),
 (48.7,46.8),(50.6,46.7),(51.9,46.7),(54.2,46.6),(56.2,46.6),(55.2,46.4),(53.2,46.3),(51.9,46.0),
 (49.7,46.0),(48.0,46.2),(45.7,46.2),(44.1,46.0),(41.5,46.3),(38.9,46.3),(35.6,46.4),(33.0,46.5),
 (59.1,46.0),(57.5,46.0),(55.5,46.0),(53.9,45.8),(56.5,45.5),(57.8,45.6),(59.7,45.4),(61.7,45.4),
 (63.3,45.6),(64.3,45.4),(60.7,44.8),(59.1,44.6),(57.8,44.3),(56.5,44.1),(55.2,44.4),(53.9,44.7),
 (52.6,44.9),(50.6,45.0),(49.3,45.2),(48.0,45.4),(46.7,45.6),(45.4,45.8),(44.1,45.4),(42.8,45.2),
 (41.5,45.6),(51.3,44.3),(52.6,44.1),(53.9,43.8),(55.2,43.9),(50.0,44.0),(48.7,44.1),(47.4,44.3),
 (46.1,44.5),(44.8,44.7),(43.4,44.9),(49.7,43.2),(51.3,43.0),(52.6,42.8),(53.9,42.6),(52.6,42.1),
 (50.6,42.3),(49.3,42.6),(48.0,42.8),(47.4,42.3),(48.7,41.9),(46.1,41.7),(44.8,42.1),(43.4,42.4),
 (46.1,43.5),(44.8,43.1),(43.4,43.7),(42.1,43.3),(40.8,43.0),(42.1,42.3),(40.8,41.9),
 (28.5,47.5),(28.8,47.3),(28.2,46.9),(30.8,46.8),(28.8,46.6),(33.7,46.7),(29.0,47.6),(31.9,47.7),
 (33.4,47.5),(34.9,48.2),(37.4,48.2),(40.1,47.7),(37.7,47.2),(31.2,46.8),
]

xticks = [20, 40, 60, 80, 100, 120]
yticks_a = [40, 50, 60, 70, 80]
yticks_b = [39, 42, 45, 48, 51]


def xs(pts):
    return [p[0] for p in pts]


def ys(pts):
    return [p[1] for p in pts]


subida_a = subida_a_blob + subida_a_band + subida_a_band_b + subida_a_bordes + subida_a_sueltos
bajada_b = (bajada_b_franja + bajada_b_nucleo + bajada_b_inferior
            + bajada_b_transicion + bajada_b_medio + bajada_b_dispersos)

fig = go.Figure()
fig.add_trace(go.Scatter(x=xs(subida_a), y=ys(subida_a), mode="markers", name="Subida",
                         marker=dict(symbol="square", size=10, color="#000000", line=dict(width=0)),
                         xaxis="x", yaxis="y", legend="legend"))
fig.add_trace(go.Scatter(x=xs(bajada_a), y=ys(bajada_a), mode="markers", name="Bajada",
                         marker=dict(symbol="square", size=10, color="#FF0000", line=dict(width=0)),
                         xaxis="x", yaxis="y", legend="legend"))
fig.add_trace(go.Scatter(x=xs(subida_b), y=ys(subida_b), mode="markers", name="Subida",
                         marker=dict(symbol="square", size=10, color="#000000", line=dict(width=0)),
                         xaxis="x2", yaxis="y2", legend="legend2"))
fig.add_trace(go.Scatter(x=xs(bajada_b), y=ys(bajada_b), mode="markers", name="Bajada",
                         marker=dict(symbol="circle", size=13, color="#FF0000", line=dict(width=0)),
                         xaxis="x2", yaxis="y2", legend="legend2"))

W, H = 899, 1225
axis_common = dict(showline=True, linecolor="black", linewidth=2.5, mirror=True,
                   ticks="outside", ticklen=9, tickwidth=2.5, tickcolor="black",
                   showgrid=False, zeroline=False, automargin=False,
                   ticklabeloverflow="allow")
yfont = dict(family="Liberation Serif", size=25, color="black", weight="bold")
xfont = dict(family="Liberation Serif", size=24, color="black", weight="bold")


def minor_log(majors, lo):
    vals = []
    step = majors[1] - majors[0]
    for m in [majors[0] - step] + majors:
        for k in range(1, 9):
            v = m + k * step / 9.0
            if lo < v < majors[-1]:
                vals.append(v)
    return vals


minor_x = dict(tickvals=[30, 50, 70, 90, 110], ticks="outside", ticklen=6,
               tickwidth=2, tickcolor="black")

fig.update_layout(
    width=W, height=H, margin=dict(l=0, r=0, t=0, b=0, pad=0, autoexpand=False),
    paper_bgcolor="white", plot_bgcolor="white",
    xaxis=dict(domain=[193 / W, 868 / W], anchor="y", range=[17.8, 121.9],
               tickvals=xticks, ticktext=[str(v) for v in xticks], tickfont=xfont,
               minor=minor_x, **axis_common),
    yaxis=dict(domain=[1 - 510 / H, 1 - 20 / H], anchor="x", type="log",
               range=[math.log10(31.2), math.log10(80)],
               tickvals=yticks_a, ticktext=[str(v) for v in yticks_a], tickfont=yfont,
               minor=dict(tickvals=minor_log(yticks_a, 31.2), ticks="outside", ticklen=6,
                          tickwidth=2, tickcolor="black"),
               **axis_common),
    xaxis2=dict(domain=[212 / W, 897 / W], anchor="y2", range=[20, 122.2],
                tickvals=xticks, ticktext=[str(v) for v in xticks], tickfont=xfont,
                minor=minor_x, **axis_common),
    yaxis2=dict(domain=[1 - 1134 / H, 1 - 648 / H], anchor="x2", type="log",
                range=[math.log10(38), math.log10(51)],
                tickvals=yticks_b, ticktext=[str(v) for v in yticks_b], tickfont=yfont,
                minor=dict(tickvals=minor_log(yticks_b, 38.0), ticks="outside", ticklen=6,
                           tickwidth=2, tickcolor="black"),
                **axis_common),
    legend=dict(x=738 / W, y=1 - 439 / H, xanchor="left", yanchor="top",
                bgcolor="rgba(0,0,0,0)", traceorder="reversed", itemwidth=40,
                font=dict(family="Liberation Sans", size=20, color="black"),
                itemsizing="trace"),
    legend2=dict(x=749 / W, y=1 - 972 / H, xanchor="left", yanchor="top",
                 bgcolor="rgba(0,0,0,0)", traceorder="normal", itemwidth=40,
                 font=dict(family="Liberation Sans", size=20, color="black"),
                 itemsizing="trace"),
    showlegend=True,
)

serif = "Liberation Serif"
ann = [
    dict(text="<b>a)</b>", x=30, y=89, size=28, color="black", angle=0),
    dict(text="<b>b)</b>", x=20, y=790, size=28, color="black", angle=0),
    dict(text="<b>Resistencia [Ohm]</b>", x=122, y=293, size=36, color="black", angle=-90),
    dict(text="<b>Resistencia [Ohm]</b>", x=143, y=897, size=36, color="black", angle=-90),
    dict(text="<b>Temperatura [°C]</b>", x=539, y=578, size=36, color="black", angle=0),
    dict(text="<b>Temperatura [°C]</b>", x=554, y=1205, size=34, color="black", angle=0),
    dict(text="<b>Cu/VO<sub>2</sub>/Al<sub>2</sub>O<sub>3</sub></b>", x=334, y=176, size=28,
         color="#800080", angle=0),
    dict(text="<b>Cu/VO<sub>2</sub>/Al<sub>2</sub>O<sub>3</sub></b>", x=369, y=688, size=29,
         color="#800080", angle=0),
    dict(text="<b>t<sub>deposición</sub>=15min</b>", x=663, y=360, size=32, color="black", angle=0),
    dict(text="<b>t<sub>deposición</sub>=20min</b>", x=707, y=1080, size=35, color="black", angle=0),
]
for a in ann:
    fig.add_annotation(text=a["text"], x=a["x"] / W, y=1 - a["y"] / H, xref="paper", yref="paper",
                       showarrow=False, xanchor="center", yanchor="middle", textangle=a["angle"],
                       font=dict(family=serif, size=a["size"], color=a["color"]))

fig.write_html("out.html")
